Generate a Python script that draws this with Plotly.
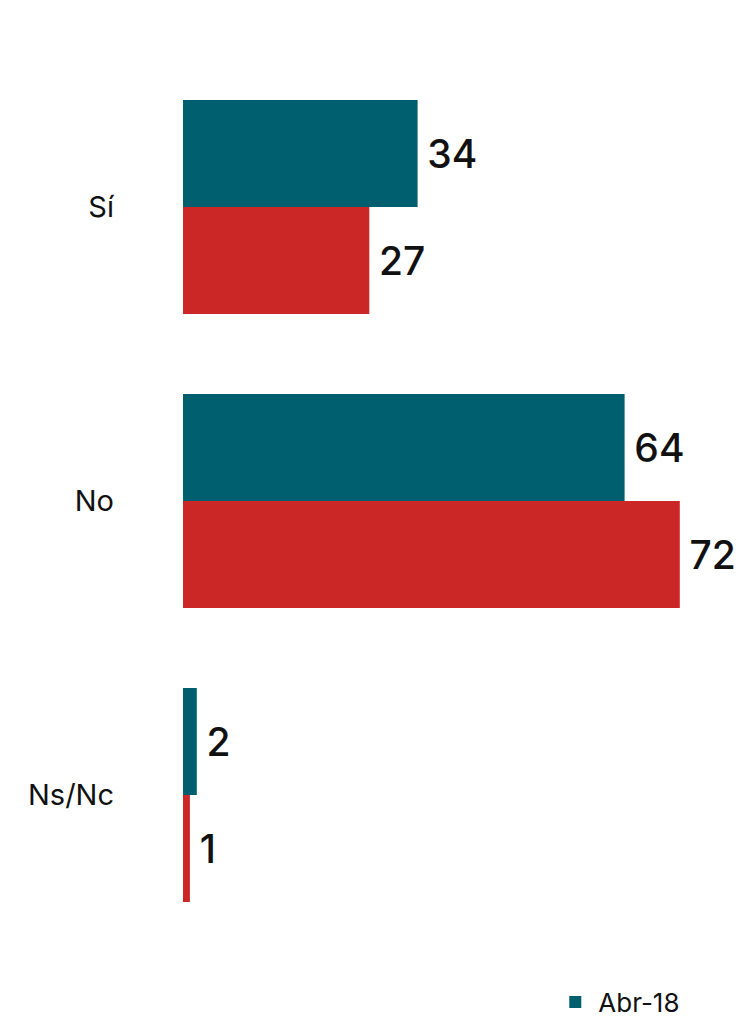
import plotly.graph_objects as go

categories = ["Sí", "No", "Ns/Nc"]
abr18 = [34, 64, 2]
other = [27, 72, 1]

TEAL = "#005f6e"
RED = "#cc2727"

label_font = {"size": 39, "color": "#111111", "family": "Inter", "weight": 500}

fig = go.Figure()
fig.add_trace(go.Bar(
    y=categories, x=abr18, orientation="h", name="Abr-18",
    marker={"color": TEAL, "line": {"width": 0}},
    text=abr18, texttemplate="\u2009%{x}", textposition="outside",
    textfont=label_font, cliponaxis=False,
))
fig.add_trace(go.Bar(
    y=categories, x=other, orientation="h", name="",
    marker={"color": RED, "line": {"width": 0}},
    text=other, texttemplate="\u2009%{x}", textposition="outside",
    textfont=label_font, cliponaxis=False, showlegend=False,
))

# page body adds an 8px margin, so the figure is sized to the visible area
fig.update_layout(
    width=737, height=1012,
    margin={"l": 175, "r": 10, "t": 52, "b": 78, "autoexpand": False},
    barmode="group", bargap=0.272, bargroupgap=0,
    plot_bgcolor="white", paper_bgcolor="white",
    font={"family": "Inter", "color": "#111111"},
    showlegend=True,
    legend={"orientation": "h", "x": 0.669, "xanchor": "left",
            "y": -0.068, "yanchor": "middle",
            "font": {"size": 26}, "itemwidth": 36},
    uniformtext={"mode": "show", "minsize": 39},
)
fig.update_xaxes(range=[0, 80], visible=False, automargin=False)
fig.update_yaxes(autorange="reversed", showline=False, showgrid=False,
                 ticks="", ticklabelstandoff=68, automargin=False,
                 tickfont={"size": 29, "color": "#111111"})

fig.write_html("out.html")
